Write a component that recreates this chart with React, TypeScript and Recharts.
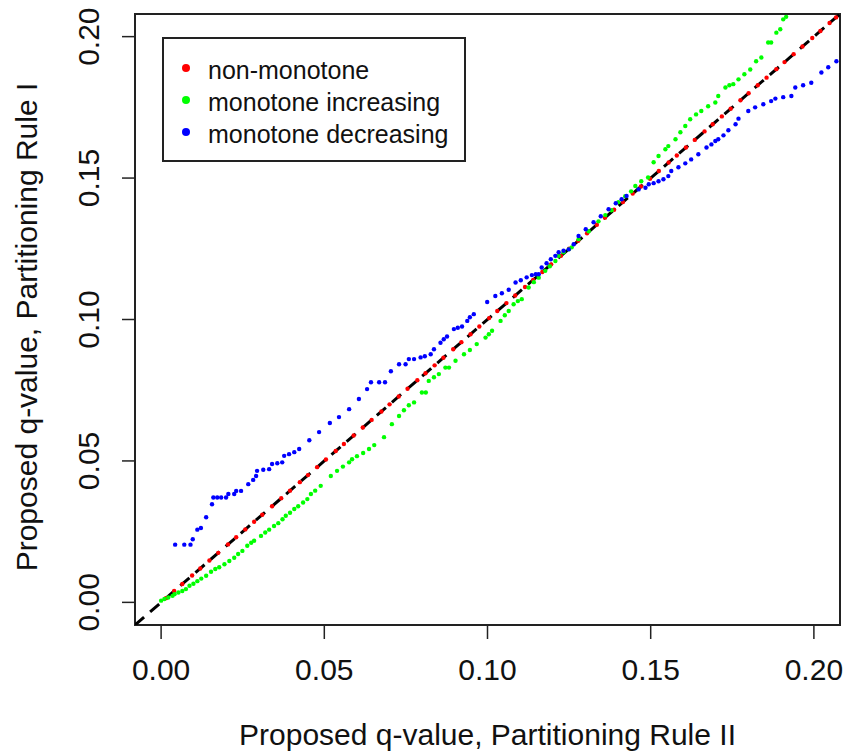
import { ScatterChart, Scatter, XAxis, YAxis, ReferenceArea, ReferenceLine, Legend, Customized } from "recharts";

const FONT = "'Liberation Sans', Arial, sans-serif";

const ticks = [0, 0.05, 0.1, 0.15, 0.2];
const domain = [-0.008, 0.208];

const seriesNames = ["non-monotone", "monotone increasing", "monotone decreasing"];
const seriesColors = ["#ff0000", "#00ff00", "#0000ff"];

// non-monotone: sits right on the diagonal
const nonMonotone: [number, number][] = [
  [0.0015, 0.0015], [0.004, 0.004], [0.0065, 0.0065], [0.0095, 0.0095], [0.012, 0.012], [0.0148, 0.0148],
  [0.0175, 0.0175], [0.0205, 0.0205], [0.023, 0.023], [0.0258, 0.0258], [0.0285, 0.0285], [0.031, 0.031],
  [0.034, 0.034], [0.0368, 0.0368], [0.0395, 0.0395], [0.0425, 0.0425], [0.045, 0.045], [0.0478, 0.0478],
  [0.0505, 0.0505], [0.0535, 0.0535], [0.056, 0.056], [0.059, 0.059], [0.0618, 0.0618], [0.0645, 0.0645],
  [0.0675, 0.0675], [0.07, 0.07], [0.0728, 0.0728], [0.0755, 0.0755], [0.0785, 0.0785], [0.081, 0.081],
  [0.0838, 0.0838], [0.0865, 0.0865], [0.0895, 0.0895], [0.092, 0.092], [0.0948, 0.0948], [0.0975, 0.0975],
  [0.1005, 0.1005], [0.103, 0.103], [0.1058, 0.1058], [0.1085, 0.1085], [0.1115, 0.1115], [0.114, 0.114],
  [0.1168, 0.1168], [0.1195, 0.1195], [0.1225, 0.1225], [0.125, 0.125], [0.1278, 0.1278], [0.1305, 0.1305],
  [0.1335, 0.1335], [0.136, 0.136], [0.1388, 0.1388], [0.1415, 0.1415], [0.1445, 0.1445], [0.147, 0.147],
  [0.1498, 0.1498], [0.1525, 0.1525], [0.1555, 0.1555], [0.158, 0.158], [0.1608, 0.1608], [0.1635, 0.1635],
  [0.1665, 0.1665], [0.169, 0.169], [0.1718, 0.1718], [0.1745, 0.1745], [0.1775, 0.1775], [0.18, 0.18],
  [0.1828, 0.1828], [0.1855, 0.1855], [0.1885, 0.1885], [0.191, 0.191], [0.1938, 0.1938], [0.1965, 0.1965],
  [0.1995, 0.1995], [0.202, 0.202], [0.2048, 0.2048], [0.2068, 0.2068],
];

const monoIncreasing: [number, number][] = [
  [0.0, 0.0006], [0.001, 0.0012], [0.0022, 0.0017], [0.0035, 0.0023], [0.0041, 0.0029], [0.0053, 0.0035],
  [0.0065, 0.004], [0.0076, 0.0047], [0.0087, 0.0059], [0.0099, 0.0066], [0.0111, 0.0075], [0.0123, 0.0084],
  [0.0138, 0.0094], [0.0153, 0.0108], [0.0166, 0.0118], [0.0178, 0.0124], [0.0194, 0.0135], [0.0209, 0.0146],
  [0.0224, 0.0158], [0.0236, 0.0171], [0.0249, 0.0182], [0.0264, 0.02], [0.0276, 0.0211], [0.0285, 0.0218],
  [0.0306, 0.0235], [0.0319, 0.0247], [0.0331, 0.0257], [0.0346, 0.027], [0.0359, 0.028], [0.0372, 0.0294],
  [0.0382, 0.0306], [0.0395, 0.0317], [0.0408, 0.033], [0.042, 0.034], [0.0435, 0.0353], [0.0448, 0.0365],
  [0.0459, 0.0383], [0.0472, 0.0395], [0.0489, 0.0412], [0.052, 0.0447], [0.0539, 0.0465], [0.0557, 0.048],
  [0.0576, 0.0495], [0.0585, 0.0506], [0.06, 0.0517], [0.0619, 0.0528], [0.0637, 0.0542], [0.0653, 0.0556],
  [0.0683, 0.0584], [0.0707, 0.063], [0.0729, 0.0659], [0.0744, 0.0679], [0.0759, 0.0697], [0.0775, 0.0707],
  [0.0799, 0.0742], [0.0811, 0.0742], [0.082, 0.0783], [0.0836, 0.0796], [0.0851, 0.0807], [0.0871, 0.083],
  [0.0882, 0.083], [0.0902, 0.0854], [0.0928, 0.0877], [0.0946, 0.0892], [0.0967, 0.0913], [0.0994, 0.0936],
  [0.1004, 0.0948], [0.1014, 0.096], [0.104, 0.0995], [0.1053, 0.1015], [0.1065, 0.103], [0.108, 0.1054],
  [0.1093, 0.1065], [0.1105, 0.1072], [0.1126, 0.1113], [0.1142, 0.1132], [0.1157, 0.1148], [0.1177, 0.1172],
  [0.1191, 0.1188], [0.1208, 0.1207], [0.1218, 0.1225], [0.1233, 0.1238], [0.1249, 0.1248], [0.1258, 0.1255],
  [0.1279, 0.1284], [0.131, 0.1312], [0.134, 0.1347], [0.1361, 0.1369], [0.138, 0.1386], [0.1401, 0.1415],
  [0.1422, 0.1436], [0.144, 0.1453], [0.1453, 0.1472], [0.1471, 0.1489], [0.1492, 0.1502], [0.1509, 0.1556],
  [0.1524, 0.1578], [0.1545, 0.1602], [0.1554, 0.1613], [0.1576, 0.1637], [0.1591, 0.1662], [0.1606, 0.1684],
  [0.1621, 0.1708], [0.1639, 0.1725], [0.1655, 0.1737], [0.1676, 0.1754], [0.1698, 0.1767], [0.1707, 0.179],
  [0.1729, 0.182], [0.1741, 0.1828], [0.1753, 0.1832], [0.1769, 0.1849], [0.1787, 0.1867], [0.1805, 0.1884],
  [0.1823, 0.1913], [0.1839, 0.1926], [0.186, 0.1979], [0.1869, 0.1979], [0.1885, 0.2014], [0.1897, 0.2026],
  [0.1906, 0.2061], [0.1915, 0.207],
];

const monoDecreasing: [number, number][] = [
  [0.0043, 0.0204], [0.0071, 0.0204], [0.009, 0.0204], [0.0097, 0.0223], [0.0111, 0.0257], [0.0122, 0.0263],
  [0.0138, 0.0301], [0.0156, 0.0347], [0.016, 0.0371], [0.0172, 0.0371], [0.0184, 0.0371], [0.0199, 0.0371],
  [0.0206, 0.0383], [0.0224, 0.0383], [0.023, 0.0394], [0.0245, 0.0394], [0.0267, 0.0418], [0.0282, 0.0433],
  [0.0291, 0.0447], [0.0294, 0.0465], [0.0313, 0.0469], [0.0331, 0.0471], [0.034, 0.0489], [0.0356, 0.0492],
  [0.0371, 0.0495], [0.0377, 0.0518], [0.0392, 0.0524], [0.0408, 0.0531], [0.0423, 0.0542], [0.0454, 0.0573],
  [0.0484, 0.0602], [0.0517, 0.0634], [0.0545, 0.0655], [0.0576, 0.0683], [0.0606, 0.0719], [0.0631, 0.0754],
  [0.0643, 0.0778], [0.0668, 0.0778], [0.0686, 0.0778], [0.0704, 0.0817], [0.0729, 0.0842], [0.0749, 0.0842],
  [0.0759, 0.086], [0.0775, 0.086], [0.0795, 0.0866], [0.0808, 0.087], [0.0826, 0.0877], [0.0836, 0.0895],
  [0.0856, 0.0918], [0.0866, 0.093], [0.0876, 0.094], [0.0897, 0.0966], [0.0909, 0.0971], [0.0922, 0.0975],
  [0.0938, 0.0995], [0.0946, 0.1008], [0.0958, 0.1019], [0.0999, 0.1062], [0.1024, 0.1083], [0.1044, 0.1093],
  [0.1065, 0.1105], [0.1086, 0.1131], [0.1102, 0.1139], [0.112, 0.1149], [0.1136, 0.1157], [0.1148, 0.116],
  [0.1157, 0.116], [0.1166, 0.1184], [0.1181, 0.1199], [0.1194, 0.1213], [0.1208, 0.1225], [0.1218, 0.1238],
  [0.1233, 0.1243], [0.1249, 0.1248], [0.1264, 0.1266], [0.1279, 0.1295], [0.1301, 0.1319], [0.1325, 0.1344],
  [0.1347, 0.1365], [0.1371, 0.139], [0.1393, 0.1411], [0.1411, 0.1425], [0.1426, 0.1437], [0.1463, 0.146],
  [0.1484, 0.1466], [0.1494, 0.1478], [0.1509, 0.1482], [0.1524, 0.1489], [0.1539, 0.1496], [0.1554, 0.1507],
  [0.1563, 0.1525], [0.1585, 0.1538], [0.1606, 0.1552], [0.1624, 0.1566], [0.1646, 0.1584], [0.1671, 0.1608],
  [0.1686, 0.1619], [0.1698, 0.1631], [0.1707, 0.1637], [0.1723, 0.1651], [0.1738, 0.1669], [0.176, 0.169],
  [0.1769, 0.171], [0.1799, 0.1737], [0.182, 0.175], [0.1845, 0.1761], [0.1869, 0.1772], [0.1882, 0.1781],
  [0.1906, 0.1786], [0.1931, 0.179], [0.1943, 0.182], [0.1967, 0.1828], [0.1992, 0.1837], [0.2023, 0.1873],
  [0.2044, 0.1892], [0.2069, 0.1913],
];

const toRows = (pts: [number, number][]) => pts.map(([x, y]) => ({ x, y }));

const dot = (color: string) => (p: any) => <circle cx={p.cx} cy={p.cy} r={2.2} fill={color} />;

const XTick = ({ x, payload }: any) => (
  <text x={x} y={680} textAnchor="middle" fontSize={30} fontFamily={FONT} fill="#111">
    {Number(payload.value).toFixed(2)}
  </text>
);

const YTick = ({ y, payload }: any) => (
  <text x={99} y={y} transform={`rotate(-90, 99, ${y})`} textAnchor="middle" fontSize={30} fontFamily={FONT} fill="#111">
    {Number(payload.value).toFixed(2)}
  </text>
);

const LegendBox = () => (
  <svg width={304} height={125} style={{ display: "block" }}>
    <rect x={1} y={1} width={302} height={123} fill="#fff" stroke="#222" strokeWidth={2} />
    {seriesNames.map((name, i) => (
      <g key={name}>
        <circle cx={24} cy={31 + i * 32} r={4} fill={seriesColors[i]} />
        <text x={46} y={42 + i * 32} fontSize={25} fontFamily={FONT} fill="#111">
          {name}
        </text>
      </g>
    ))}
  </svg>
);

const AxisTitles = () => (
  <g fontFamily={FONT} fontSize={30} fill="#111">
    <text x={487.5} y={745} textAnchor="middle">Proposed q-value, Partitioning Rule II</text>
    <text x={37} y={327} transform="rotate(-90, 37, 327)" textAnchor="middle">Proposed q-value, Partitioning Rule I</text>
  </g>
);

export default function App() {
  return (
    <div style={{ position: "absolute", left: 0, top: 0, background: "#fff" }}>
      <ScatterChart width={847} height={753} margin={{ top: 14, right: 7, bottom: 68, left: 75 }}>
        <XAxis
          type="number"
          dataKey="x"
          domain={domain}
          ticks={ticks}
          allowDataOverflow
          interval={0}
          height={60}
          axisLine={false}
          tickSize={14}
          tickLine={{ stroke: "#222", strokeWidth: 1.5 }}
          tick={XTick}
        />
        <YAxis
          type="number"
          dataKey="y"
          domain={domain}
          ticks={ticks}
          allowDataOverflow
          interval={0}
          width={60}
          axisLine={false}
          tickSize={13}
          tickLine={{ stroke: "#222", strokeWidth: 1.5 }}
          tick={YTick}
        />
        <Scatter name={seriesNames[0]} data={toRows(nonMonotone)} fill={seriesColors[0]} shape={dot(seriesColors[0])} isAnimationActive={false} />
        <Scatter name={seriesNames[1]} data={toRows(monoIncreasing)} fill={seriesColors[1]} shape={dot(seriesColors[1])} isAnimationActive={false} />
        <Scatter name={seriesNames[2]} data={toRows(monoDecreasing)} fill={seriesColors[2]} shape={dot(seriesColors[2])} isAnimationActive={false} />
        <ReferenceLine
          segment={[{ x: domain[0], y: domain[0] }, { x: domain[1], y: domain[1] }]}
          stroke="#000"
          strokeWidth={3}
          strokeDasharray="12 8"
          ifOverflow="hidden"
        />
        <ReferenceArea x1={domain[0]} x2={domain[1]} y1={domain[0]} y2={domain[1]} fill="none" fillOpacity={0} stroke="#222" strokeWidth={2} ifOverflow="visible" />
        <Legend
          layout="vertical"
          align="center"
          verticalAlign="middle"
          wrapperStyle={{ left: 162, top: 37, width: 304, height: 125 }}
          content={() => <LegendBox />}
        />
        <Customized component={AxisTitles} />
      </ScatterChart>
    </div>
  );
}
